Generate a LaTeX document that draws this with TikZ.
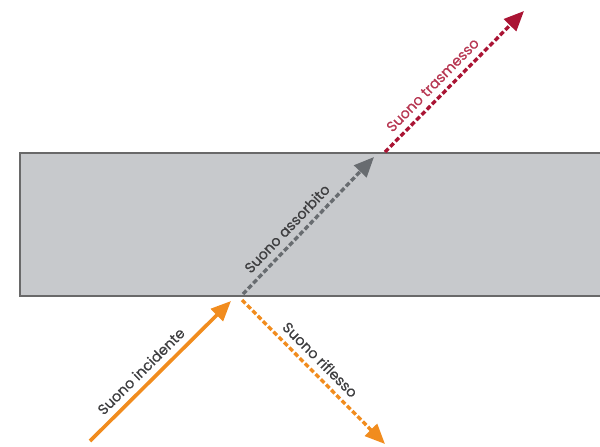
\documentclass[tikz,border=0pt]{standalone}
\usepackage{fontspec}
\newfontfamily\sndfont[FakeBold=0.6]{Poppins}
\usetikzlibrary{arrows.meta}
\definecolor{SndOrange}{RGB}{241,140,30}
\definecolor{SndRed}{RGB}{170,20,52}
\definecolor{SndDark}{RGB}{104,108,112}
\definecolor{SndSlab}{RGB}{199,201,204}
\definecolor{SndEdge}{RGB}{105,105,105}
\definecolor{SndText}{RGB}{62,62,64}
\tikzset{
  snd/slab/.style={fill=SndSlab},
  snd/edge/.style={draw=SndEdge, line width=1.2pt},
  snd/arrow/.style={-{Triangle[length=0.5cm,width=0.42cm]}, line width=2.6pt, draw=SndOrange},
  snd/dasharrow/.style={-{Triangle[length=0.5cm,width=0.42cm]}, line width=2.4pt,
    dash pattern=on 3.5pt off 1.8pt},
  snd/label/.style={font=\sndfont\fontsize{10.2}{12}\selectfont, text=SndText, sloped, above=3.5pt, inner sep=1pt}
}
\begin{document}
\begin{tikzpicture}[x=0.025cm,y=-0.025cm]
  \useasboundingbox (0,0) rectangle (600,447);
  % wall
  \fill[snd/slab] (20,153) rectangle (600,296);
  \draw[snd/edge] (600,153) -- (20,153) -- (20,296) -- (600,296);
  % points
  \coordinate (inc) at (90,441);
  \coordinate (hit) at (231,301);
  \coordinate (refl0) at (242,300);
  \coordinate (refl) at (385,444);
  \coordinate (abs0) at (243,294);
  \coordinate (abs) at (374,157);
  \coordinate (tra0) at (385,152);
  \coordinate (tra) at (524,11);
  % rays
  \draw[snd/arrow] (inc) -- node[snd/label,pos=0.43] {Suono incidente} (hit);
  \draw[snd/dasharrow,draw=SndOrange] (refl0) -- node[snd/label,pos=0.48] {Suono riflesso} (refl);
  \draw[snd/dasharrow,draw=SndDark] (abs0) -- node[snd/label,pos=0.41] {Suono assorbito} (abs);
  \draw[snd/dasharrow,draw=SndRed] (tra0) -- node[snd/label,pos=0.41,text=SndRed!85!white] {Suono trasmesso} (tra);
\end{tikzpicture}
\end{document}
